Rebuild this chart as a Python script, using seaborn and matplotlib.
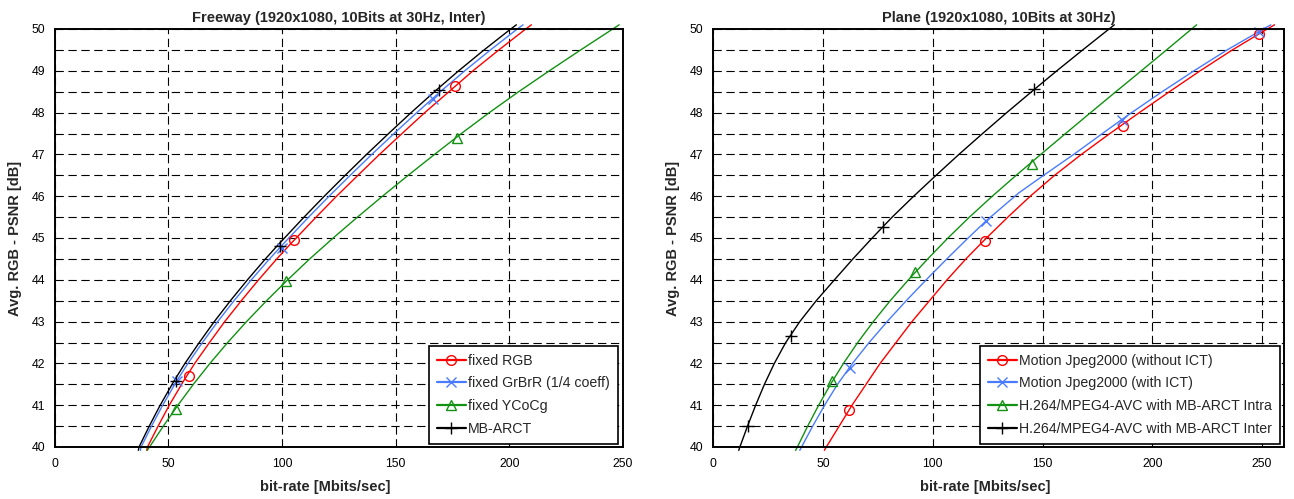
import numpy as np
import pandas as pd
import matplotlib
matplotlib.use("Agg")
import matplotlib.pyplot as plt
from matplotlib.lines import Line2D
from matplotlib.ticker import MultipleLocator
import seaborn as sns

# ---------------- Data: Freeway (left) ----------------
fw_title = "Freeway (1920x1080, 10Bits at 30Hz, Inter)"
fw_labels = ["fixed RGB", "fixed GrBrR (1/4 coeff)", "fixed YCoCg", "MB-ARCT"]

fw_rgb_x = [40.5, 40.8, 45.5, 50.4, 56.7, 61.6, 68.1, 74.8, 82.1, 89.7, 97.7, 103.1, 115.0, 124.0, 133.4, 142.9, 152.8, 162.8, 174.5, 184.0, 195.4, 207.2, 209.7]
fw_rgb_y = [39.92, 40.0, 40.5, 41.0, 41.58, 42.0, 42.5, 43.0, 43.5, 44.0, 44.5, 44.82, 45.5, 46.0, 46.5, 47.0, 47.5, 48.0, 48.55, 49.0, 49.5, 50.0, 50.1]
fw_grb_x = [37.7, 38.0, 42.6, 47.5, 53.7, 58.6, 65.0, 71.7, 78.9, 86.5, 94.5, 99.9, 111.7, 120.7, 130.0, 139.5, 149.3, 159.3, 170.7, 180.4, 191.7, 203.5, 206.0]
fw_grb_y = [39.92, 40.0, 40.5, 41.0, 41.58, 42.0, 42.5, 43.0, 43.5, 44.0, 44.5, 44.82, 45.5, 46.0, 46.5, 47.0, 47.5, 48.0, 48.55, 49.0, 49.5, 50.0, 50.1]
fw_ycc_x = [40.7, 41.7, 47.8, 54.2, 61.0, 68.3, 76.1, 84.4, 93.2, 102.5, 112.2, 122.5, 133.2, 144.2, 155.5, 167.1, 178.9, 191.2, 204.1, 217.6, 231.4, 245.5, 248.3]
fw_ycc_y = [39.92, 40.0, 40.5, 41.0, 41.5, 42.0, 42.5, 43.0, 43.5, 44.0, 44.5, 45.0, 45.5, 46.0, 46.5, 47.0, 47.5, 48.0, 48.5, 49.0, 49.5, 50.0, 50.1]
fw_arc_x = [36.8, 37.1, 41.6, 46.4, 52.5, 57.3, 63.6, 70.2, 77.3, 84.8, 92.7, 98.0, 109.7, 118.6, 127.8, 137.2, 146.9, 156.8, 168.1, 177.7, 188.9, 200.6, 203.1]
fw_arc_y = [39.92, 40.0, 40.5, 41.0, 41.58, 42.0, 42.5, 43.0, 43.5, 44.0, 44.5, 44.82, 45.5, 46.0, 46.5, 47.0, 47.5, 48.0, 48.55, 49.0, 49.5, 50.0, 50.1]

fw_rgb_mx = [59.2, 105.3, 176.1]
fw_rgb_my = [41.71, 44.95, 48.63]
fw_grb_mx = [53.7, 99.8, 166.3]
fw_grb_my = [41.58, 44.77, 48.33]
fw_ycc_mx = [53.2, 101.8, 176.8]
fw_ycc_my = [40.92, 43.96, 47.40]
fw_arc_mx = [53.4, 99.1, 168.9]
fw_arc_my = [41.58, 44.82, 48.55]

# ---------------- Data: Plane (right) ----------------
pl_title = "Plane (1920x1080, 10Bits at 30Hz)"
pl_labels = ["Motion Jpeg2000 (without ICT)", "Motion Jpeg2000 (with ICT)",
             "H.264/MPEG4-AVC with MB-ARCT Intra", "H.264/MPEG4-AVC with MB-ARCT Inter"]

pl_noict_x = [50.6, 51.5, 61.8, 63.2, 76.0, 90.5, 106.5, 115.1, 123.3, 134.2, 144.4, 155.5, 167.7, 180.7, 185.8, 194.1, 207.8, 221.8, 236.5, 248.5, 252.4, 255.7]
pl_noict_y = [39.92, 40.0, 40.88, 41.0, 42.0, 43.0, 44.0, 44.5, 44.94, 45.5, 46.0, 46.5, 47.0, 47.5, 47.69, 48.0, 48.5, 49.0, 49.5, 49.88, 50.0, 50.1]
pl_ict_x = [39.4, 40.2, 45.3, 50.7, 56.6, 63.4, 71.0, 79.2, 87.9, 97.0, 106.4, 116.1, 124.3, 139.2, 150.5, 164.2, 177.3, 186.0, 190.6, 204.5, 219.0, 234.1, 248.3, 250.6, 254.0]
pl_ict_y = [39.92, 40.0, 40.5, 41.0, 41.5, 42.0, 42.5, 43.0, 43.5, 44.0, 44.5, 45.0, 45.41, 46.08, 46.5, 47.0, 47.5, 47.83, 48.0, 48.5, 49.0, 49.5, 49.93, 50.0, 50.1]
pl_intra_x = [37.5, 38.3, 43.0, 48.0, 53.4, 59.3, 65.8, 72.9, 80.6, 88.9, 97.7, 106.9, 116.7, 127.1, 138.0, 149.2, 160.5, 171.9, 183.4, 195.0, 206.5, 217.9, 220.2]
pl_intra_y = [39.92, 40.0, 40.5, 41.0, 41.5, 42.0, 42.5, 43.0, 43.5, 44.0, 44.5, 45.0, 45.5, 46.0, 46.5, 47.0, 47.5, 48.0, 48.5, 49.0, 49.5, 50.0, 50.1]
pl_inter_x = [11.6, 12.1, 15.6, 19.3, 23.3, 27.8, 33.0, 39.4, 46.9, 55.2, 63.6, 72.4, 81.5, 91.3, 101.5, 111.9, 122.7, 133.7, 146.6, 156.5, 168.3, 180.3, 182.7]
pl_inter_y = [39.92, 40.0, 40.5, 41.0, 41.5, 42.0, 42.5, 43.0, 43.5, 44.0, 44.5, 45.0, 45.5, 46.0, 46.5, 47.0, 47.5, 48.0, 48.57, 49.0, 49.5, 50.0, 50.1]

pl_noict_mx = [61.8, 123.8, 186.5, 248.5]
pl_noict_my = [40.88, 44.94, 47.69, 49.88]
pl_ict_mx = [62.1, 124.1, 186.2, 248.5]
pl_ict_my = [41.88, 45.41, 47.83, 49.93]
pl_intra_mx = [54.2, 92.1, 145.1]
pl_intra_my = [41.58, 44.18, 46.78]
pl_inter_mx = [15.6, 35.2, 77.4, 146.3]
pl_inter_my = [40.5, 42.66, 45.27, 48.57]

x_ticks = [0, 50, 100, 150, 200, 250]
y_ticks = [40, 41, 42, 43, 44, 45, 46, 47, 48, 49, 50]
xlabel = "bit-rate [Mbits/sec]"
ylabel = "Avg. RGB - PSNR [dB]"

# ---------------- Styling ----------------
sns.set_style("white")
plt.rcParams["font.family"] = ["Liberation Sans", "DejaVu Sans"]
plt.rcParams["lines.scale_dashes"] = False

RED = "#ff0000"
BLUE = "#4a7bff"
GREEN = "#129112"
BLACK = "#000000"
colors = [RED, BLUE, GREEN, BLACK]
mstyles = [dict(marker="o", mfc="none", ms=7, mew=1.0),
           dict(marker="x", ms=7, mew=1.0),
           dict(marker="^", mfc="none", ms=7, mew=1.0),
           dict(marker="+", ms=8, mew=1.0)]

W, H = 1294, 499
fig = plt.figure(figsize=(W / 100, H / 100), dpi=100)
ax1 = fig.add_axes([54.7 / W, 1 - 447 / H, (623 - 54.7) / W, 418 / H])
ax2 = fig.add_axes([713.3 / W, 1 - 447 / H, (1284 - 713.3) / W, 418 / H])


def draw(ax, curves, markers, labels, title, xmax, legend_anchor):
    for (cx, cy), (mx, my), col, ms in zip(curves, markers, colors, mstyles):
        df = pd.DataFrame({"x": cx, "y": cy})
        sns.lineplot(data=df, x="x", y="y", sort=False, estimator=None,
                     color=col, lw=1.0, ax=ax, clip_on=False, zorder=3)
        ax.plot(mx, my, linestyle="none", color=col, zorder=4, clip_on=False, **ms)
    ax.set_xlim(0, xmax)
    ax.set_ylim(40, 50)
    ax.set_xticks(x_ticks)
    ax.set_yticks(y_ticks)
    ax.yaxis.set_minor_locator(MultipleLocator(0.5))
    ax.grid(True, which="both", axis="y", color="black", lw=0.8, linestyle=(0, (6, 3.3)), zorder=1)
    ax.grid(True, which="major", axis="x", color="black", lw=0.8, linestyle=(0, (6, 3.3)), zorder=1)
    ax.tick_params(axis="both", which="major", direction="out", length=3.5, width=1,
                   labelsize=8.8, colors="black", pad=3.5)
    ax.tick_params(axis="y", which="minor", length=0)
    ax.tick_params(axis="x", which="major", pad=4.5)
    for s in ax.spines.values():
        s.set_visible(True)
        s.set_color("black")
        s.set_linewidth(1.4)
        s.set_zorder(5)
    ax.set_title(title, fontsize=10.5, fontweight="bold", pad=5)
    ax.set_xlabel(xlabel, fontsize=10.5, fontweight="bold")
    ax.set_ylabel(ylabel, fontsize=10.5, fontweight="bold")
    ax.xaxis.set_label_coords(0.476, -0.078)
    ax.yaxis.set_label_coords(-0.058, 0.5)
    handles = [Line2D([], [], color=c, lw=1.6, **m) for c, m in zip(colors, mstyles)]
    leg = ax.legend(handles, labels, loc="lower right", bbox_to_anchor=legend_anchor,
                    borderaxespad=0, fontsize=10.2, frameon=True, fancybox=False,
                    edgecolor="black", framealpha=1, handlelength=2.0,
                    handletextpad=0.2, labelspacing=0.62, borderpad=0.55)
    leg.get_frame().set_linewidth(1.2)
    leg.set_zorder(10)


draw(ax1,
     [(fw_rgb_x, fw_rgb_y), (fw_grb_x, fw_grb_y), (fw_ycc_x, fw_ycc_y), (fw_arc_x, fw_arc_y)],
     [(fw_rgb_mx, fw_rgb_my), (fw_grb_mx, fw_grb_my), (fw_ycc_mx, fw_ycc_my), (fw_arc_mx, fw_arc_my)],
     fw_labels, fw_title, 250, (0.991, 0.008))
draw(ax2,
     [(pl_noict_x, pl_noict_y), (pl_ict_x, pl_ict_y), (pl_intra_x, pl_intra_y), (pl_inter_x, pl_inter_y)],
     [(pl_noict_mx, pl_noict_my), (pl_ict_mx, pl_ict_my), (pl_intra_mx, pl_intra_my), (pl_inter_mx, pl_inter_my)],
     pl_labels, pl_title, 260, (0.993, 0.008))

fig.savefig("out.png", dpi=100)
